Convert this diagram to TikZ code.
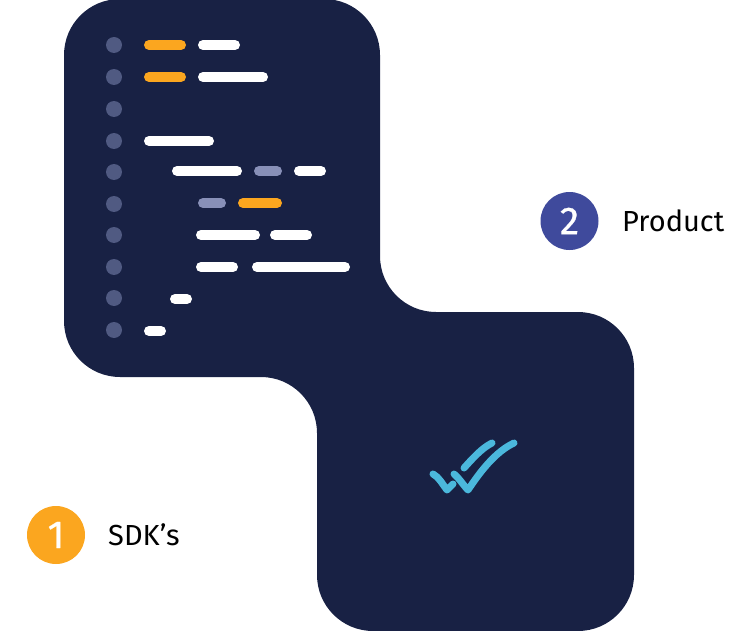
\documentclass[tikz,border=0pt]{standalone}
\usepackage{fontspec}
\setmainfont{Fira Sans}
\newfontfamily\badgefont[FakeBold=0.6]{Fira Sans}
\definecolor{panelnavy}{HTML}{182144}
\definecolor{linedot}{HTML}{505A82}
\definecolor{barorange}{HTML}{FBA61F}
\definecolor{bargrey}{HTML}{8890B8}
\definecolor{badgeblue}{HTML}{3F4A9C}
\definecolor{checkblue}{HTML}{4BB8DC}
\tikzset{
    codebar/.style={line width=10pt, line cap=round},
    checkline/.style={line width=7pt, line cap=round, line join=round, color=checkblue},
    badge/.style={circle, minimum size=58pt, inner sep=0pt, text=white, font=\badgefont\fontsize{39}{39}\selectfont},
    caption/.style={anchor=base west, inner sep=0pt, text=black, font=\fontsize{29}{29}\selectfont}
}
\begin{document}
\begin{tikzpicture}[x=1pt, y=-1pt]
    \useasboundingbox (0,0) rectangle (754,631);
    %the panel, one outline for both lobes
    \fill[panelnavy, rounded corners=56pt] (64,-1) -- (380,-1) -- (380,312) -- (634,312) -- (634,631) -- (317,631) -- (317,377) -- (64,377) -- cycle;
    %line number dots
    \foreach \y in {45,77,109,141,172,204,235,267,298,330}
        \fill[linedot] (114,\y) circle (8);
    %code bars: from, to, row
    \foreach \a/\b/\y in {149/181/45, 149/181/77}
        \draw[codebar, barorange] (\a,\y) -- (\b,\y);
    \draw[codebar, barorange] (243,203) -- (277,203);
    \foreach \a/\b/\y in {259/277/171, 203/221/203}
        \draw[codebar, bargrey] (\a,\y) -- (\b,\y);
    \foreach \a/\b/\y in {203/235/45, 203/263/77, 149/209/141, 177/237/171, 299/321/171, 201/255/235, 275/307/235, 201/233/267, 257/345/267, 175/187/299, 149/161/331}
        \draw[codebar, white] (\a,\y) -- (\b,\y);
    %double tick
    \draw[checkline] (433,474) .. controls (439,477) and (443,485) .. (447,490) -- (453,484);
    \draw[checkline] (454,474) .. controls (459,478) and (464,486) .. (468,490) .. controls (480,472) and (495,452) .. (514,443);
    \draw[checkline] (464,468) .. controls (473,458) and (482,448) .. (492,443);
    %labels
    \node[badge, fill=barorange] (badgeone) at (56,535) {1};
    \node[badge, fill=badgeblue] (badgetwo) at (569.5,221) {2};
    \node[caption] (sdklabel) at (108,545) {SDK’s};
    \node[caption] (productlabel) at (622,231) {Product};
\end{tikzpicture}
\end{document}
